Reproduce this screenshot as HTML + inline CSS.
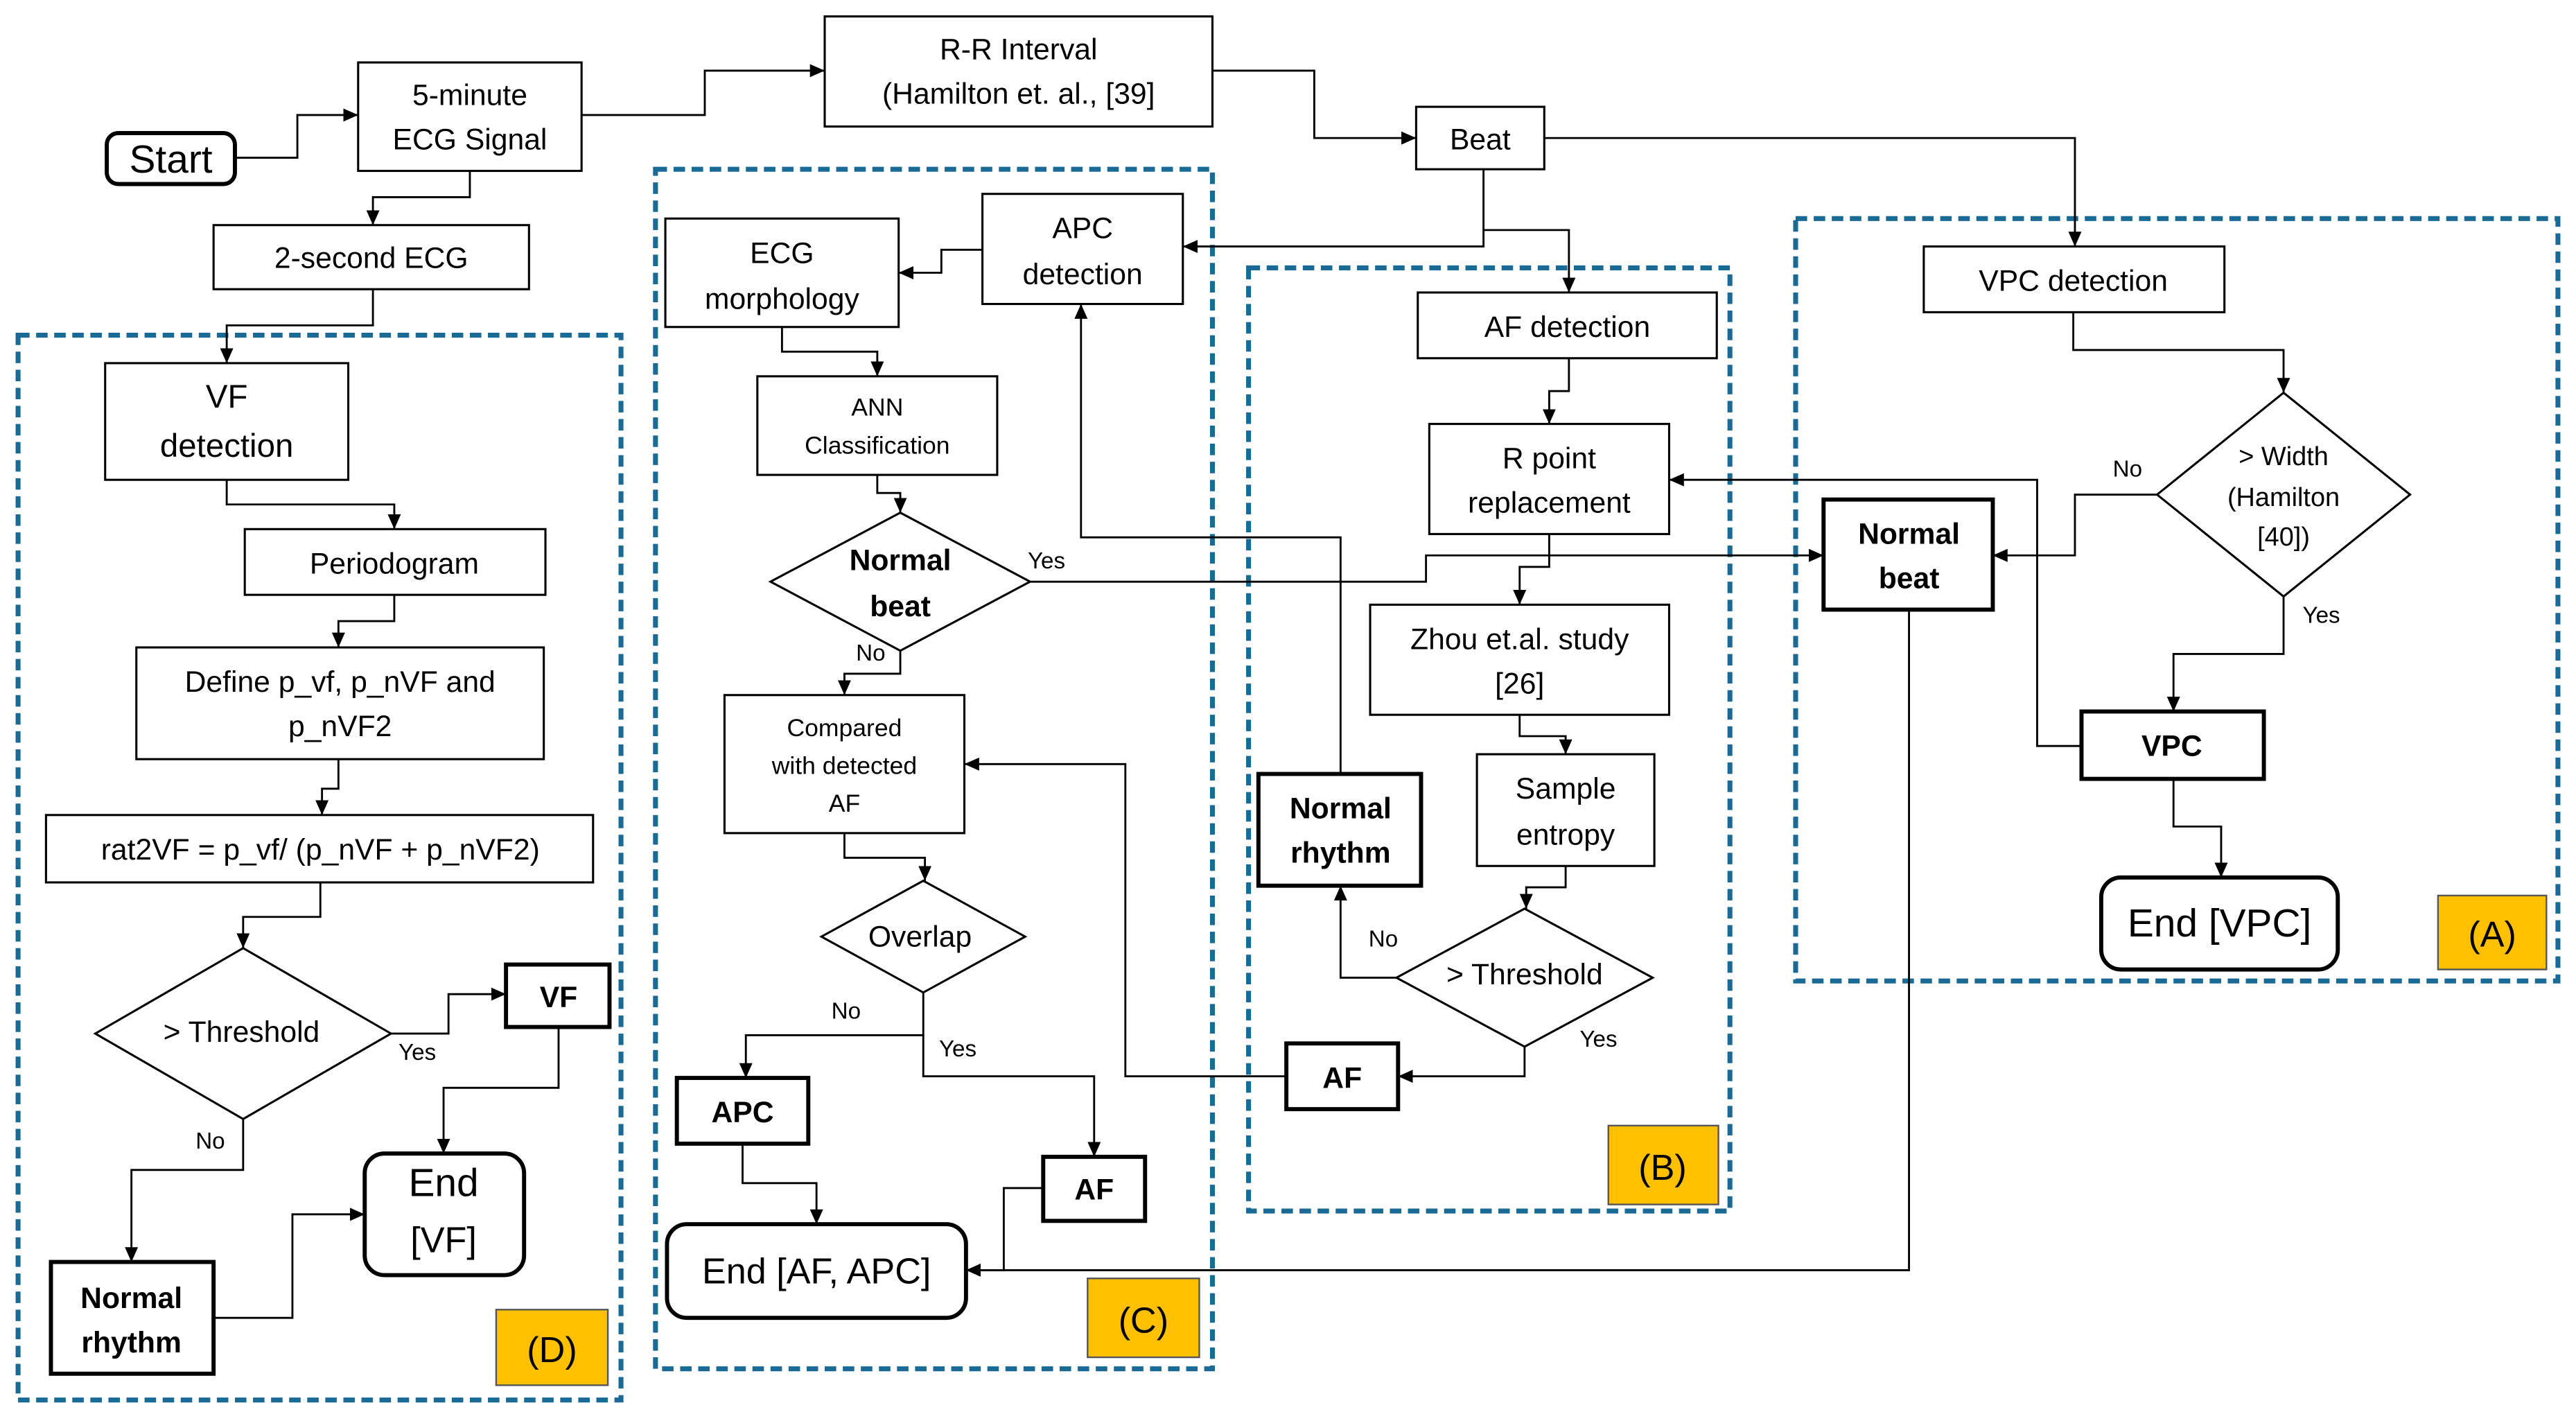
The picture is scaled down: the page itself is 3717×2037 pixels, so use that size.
<!DOCTYPE html>
<html><head><meta charset="utf-8"><style>
html,body{margin:0;padding:0;background:#fff}
svg{display:block}
text{font-family:"Liberation Sans",sans-serif;fill:#000}
</style></head><body>
<svg width="3717" height="2037" viewBox="0 0 1568 859.3" preserveAspectRatio="none" xmlns="http://www.w3.org/2000/svg">
<defs>
<marker id="a" markerWidth="10" markerHeight="10" refX="9" refY="5" orient="auto" markerUnits="userSpaceOnUse">
<path d="M0,1 L9,5 L0,9 Z" fill="#000"/></marker>
</defs>
<g fill="none" stroke="#1a6a96" stroke-width="3" stroke-dasharray="7,4">
<rect x="11" y="204" width="367" height="648"/>
<rect x="399" y="103" width="339" height="730"/>
<rect x="760" y="163" width="293" height="574"/>
<rect x="1093" y="133" width="464" height="464"/>
</g>
<g fill="#FFC000" stroke="#555" stroke-width="1">
<rect x="302" y="797" width="68" height="46"/>
<rect x="662" y="778" width="68" height="48"/>
<rect x="979" y="685" width="67" height="48"/>
<rect x="1484" y="545" width="66" height="45"/>
</g>
<g font-size="22" text-anchor="middle">
<text x="336" y="829">(D)</text><text x="696" y="811">(C)</text><text x="1012" y="718">(B)</text><text x="1517" y="576">(A)</text>
</g>
<!-- normal boxes -->
<g fill="#fff" stroke="#000" stroke-width="1.3">
<rect x="218" y="38" width="136" height="66"/>
<rect x="502" y="10" width="236" height="67"/>
<rect x="862" y="65" width="78" height="38"/>
<rect x="130" y="137" width="192" height="39"/>
<rect x="64" y="221" width="148" height="71"/>
<rect x="149" y="322" width="183" height="40"/>
<rect x="83" y="394" width="248" height="68"/>
<rect x="28" y="496" width="333" height="41"/>
<rect x="405" y="133" width="142" height="66"/>
<rect x="598" y="118" width="122" height="67"/>
<rect x="461" y="229" width="146" height="60"/>
<rect x="441" y="423" width="146" height="84"/>
<rect x="863" y="178" width="182" height="40"/>
<rect x="870" y="258" width="146" height="67"/>
<rect x="834" y="368" width="182" height="67"/>
<rect x="899" y="459" width="108" height="68"/>
<rect x="1171" y="150" width="183" height="40"/>
<polygon points="58,629 148,577 238,629 148,681"/>
<polygon points="469,354 548,312 627,354 548,396"/>
<polygon points="500,570 562,536 624,570 562,604"/>
<polygon points="850,595 928,553 1006,595 928,637"/>
<polygon points="1313,301 1390,239 1467,301 1390,363"/>
</g>
<!-- bold boxes -->
<g fill="#fff" stroke="#000" stroke-width="2.5">
<rect x="65" y="81" width="78" height="31" rx="7"/>
<rect x="308" y="587" width="63" height="38"/>
<rect x="222" y="702" width="97" height="74" rx="12"/>
<rect x="31" y="768" width="99" height="68"/>
<rect x="412" y="656" width="80" height="40"/>
<rect x="635" y="704" width="62" height="39"/>
<rect x="406" y="745" width="182" height="57" rx="12"/>
<rect x="766" y="471" width="99" height="68"/>
<rect x="783" y="635" width="68" height="40"/>
<rect x="1110" y="304" width="103" height="67"/>
<rect x="1267" y="433" width="111" height="41"/>
<rect x="1279" y="534" width="144" height="56" rx="12"/>
</g>
<!-- connectors -->
<g fill="none" stroke="#000" stroke-width="1.2" marker-end="url(#a)">
<polyline points="143,96 181,96 181,70 218,70"/>
<polyline points="354,70 429,70 429,43 502,43"/>
<polyline points="738,43 800,43 800,84 862,84"/>
<polyline points="940,84 1263,84 1263,150"/>
<polyline points="903,103 903,140 955,140 955,178"/>
<polyline points="903,140 903,150 720,150"/>
<polyline points="286,104 286,120 227,120 227,137"/>
<polyline points="227,176 227,198 138,198 138,221"/>
<polyline points="138,292 138,307 240,307 240,322"/>
<polyline points="240,362 240,378 206,378 206,394"/>
<polyline points="206,462 206,480 196,480 196,496"/>
<polyline points="195,537 195,558 148,558 148,577"/>
<polyline points="238,629 273,629 273,605 308,605"/>
<polyline points="148,681 148,712 80,712 80,768"/>
<polyline points="340,625 340,662 270,662 270,702"/>
<polyline points="130,802 178,802 178,739 222,739"/>
<polyline points="598,152 573,152 573,166 547,166"/>
<polyline points="476,199 476,214 534,214 534,229"/>
<polyline points="534,289 534,300 548,300 548,312"/>
<polyline points="627,354 868,354 868,338 1110,338"/>
<polyline points="548,396 548,410 514,410 514,423"/>
<polyline points="514,507 514,522 563,522 563,536"/>
<polyline points="562,604 562,630 454,630 454,656"/>
<polyline points="562,630 562,655 666,655 666,704"/>
<polyline points="452,696 452,720 497,720 497,745"/>
<polyline points="635,723 611,723 611,773 588,773"/>
<polyline points="1162,371 1162,773 588,773"/>
<polyline points="783,655 685,655 685,465 587,465"/>
<polyline points="928,637 928,655 851,655"/>
<polyline points="850,595 816,595 816,539"/>
<polyline points="816,471 816,327 658,327 658,185"/>
<polyline points="955,218 955,238 943,238 943,258"/>
<polyline points="943,325 943,345 925,345 925,368"/>
<polyline points="925,435 925,448 953,448 953,459"/>
<polyline points="953,527 953,540 929,540 929,553"/>
<polyline points="1262,190 1262,213 1390,213 1390,239"/>
<polyline points="1313,301 1263,301 1263,338 1213,338"/>
<polyline points="1390,363 1390,398 1323,398 1323,433"/>
<polyline points="1267,454 1240,454 1240,292 1016,292"/>
<polyline points="1323,474 1323,503 1352,503 1352,534"/>
</g>
<!-- text -->
<g font-size="18" text-anchor="middle">
<text x="104" y="105" font-size="24">Start</text>
<text x="286" y="64">5-minute</text><text x="286" y="91">ECG Signal</text>
<text x="620" y="36">R-R Interval</text><text x="620" y="63">(Hamilton et. al., [39]</text>
<text x="901" y="91">Beat</text>
<text x="226" y="163">2-second ECG</text>
<text x="138" y="248" font-size="20">VF</text><text x="138" y="278" font-size="20">detection</text>
<text x="240" y="349">Periodogram</text>
<text x="207" y="421">Define p_vf, p_nVF and</text><text x="207" y="448">p_nVF2</text>
<text x="195" y="523">rat2VF = p_vf/ (p_nVF + p_nVF2)</text>
<text x="147" y="634">&gt; Threshold</text>
<text x="270" y="728" font-size="24">End</text><text x="270" y="762" font-size="22">[VF]</text>
<text x="476" y="160">ECG</text><text x="476" y="188">morphology</text>
<text x="659" y="145">APC</text><text x="659" y="173">detection</text>
<text x="534" y="253" font-size="15">ANN</text><text x="534" y="276" font-size="15">Classification</text>
<text x="514" y="448" font-size="15">Compared</text><text x="514" y="471" font-size="15">with detected</text><text x="514" y="494" font-size="15">AF</text>
<text x="560" y="576">Overlap</text>
<text x="497" y="781" font-size="22">End [AF, APC]</text>
<text x="954" y="205">AF detection</text>
<text x="943" y="285">R point</text><text x="943" y="312">replacement</text>
<text x="925" y="395">Zhou et.al. study</text><text x="925" y="422">[26]</text>
<text x="953" y="486">Sample</text><text x="953" y="514">entropy</text>
<text x="928" y="599">&gt; Threshold</text>
<text x="1262" y="177">VPC detection</text>
<text x="1390" y="283" font-size="16">&gt; Width</text><text x="1390" y="308" font-size="16">(Hamilton</text><text x="1390" y="332" font-size="16">[40])</text>
<text x="1351" y="570" font-size="24">End [VPC]</text>
</g>
<g font-size="18" font-weight="bold" text-anchor="middle">
<text x="340" y="613">VF</text>
<text x="80" y="796">Normal</text><text x="80" y="823">rhythm</text>
<text x="548" y="347">Normal</text><text x="548" y="375">beat</text>
<text x="452" y="683">APC</text>
<text x="666" y="730">AF</text>
<text x="816" y="498">Normal</text><text x="816" y="525">rhythm</text>
<text x="817" y="662">AF</text>
<text x="1162" y="331">Normal</text><text x="1162" y="358">beat</text>
<text x="1322" y="460">VPC</text>
</g>
<g font-size="14" text-anchor="middle">
<text x="254" y="645">Yes</text><text x="128" y="699">No</text>
<text x="637" y="346">Yes</text><text x="530" y="402">No</text>
<text x="515" y="620">No</text><text x="583" y="643">Yes</text>
<text x="842" y="576">No</text><text x="973" y="637">Yes</text>
<text x="1295" y="290">No</text><text x="1413" y="379">Yes</text>
</g>
</svg>
</body></html>
